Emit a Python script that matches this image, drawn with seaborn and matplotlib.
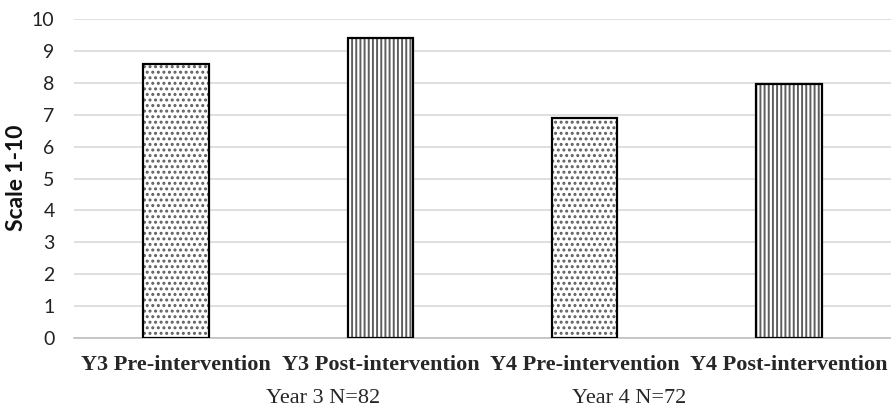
import matplotlib
matplotlib.use("Agg")
import matplotlib.pyplot as plt
import seaborn as sns
import pandas as pd

categories = ["Y3 Pre-intervention", "Y3 Post-intervention", "Y4 Pre-intervention", "Y4 Post-intervention"]
values = [8.6, 9.4, 6.9, 7.95]
groups = ["Year 3 N=82", "Year 4 N=72"]
group_pos = [0.72, 2.22]
yticks = list(range(0, 11))

df = pd.DataFrame({"cat": categories, "val": values})

sns.set_style("white")
plt.rcParams["hatch.linewidth"] = 1.4
fig = plt.figure(figsize=(8.91, 4.08), dpi=100)
ax = fig.add_axes([74/891, 1-338/408, 1-74/891, (338-19)/408])

sns.barplot(data=df, x="cat", y="val", ax=ax, color="white", width=0.32,
            edgecolor="#5e5e5e", linewidth=0, zorder=3)
hatches = ["...", "||||", "...", "||||"]
for p, h in zip(ax.patches, hatches):
    p.set_hatch(h)
sns.barplot(data=df, x="cat", y="val", ax=ax, fill=False, width=0.32,
            edgecolor="black", linewidth=1.6, zorder=4)

ax.set_ylim(0, 10)
ax.set_xlim(-0.5, 3.5)
ax.set_yticks(yticks)
ax.set_yticklabels([str(t) for t in yticks], fontsize=14, family="Lato", color="#222222")
ax.set_xticks(range(len(categories)))
ax.set_xticklabels(categories, fontsize=16, family="Liberation Serif", fontweight="bold")
ax.tick_params(axis="x", length=0, pad=12)
ax.tick_params(axis="y", length=0, pad=14)
ax.grid(axis="y", color="#d9d9d9", linewidth=1.2, zorder=0)
ax.set_axisbelow(True)
for s in ["top", "right", "left"]:
    ax.spines[s].set_visible(False)
ax.spines["bottom"].set_color("#bfbfbf")
ax.spines["bottom"].set_linewidth(1.2)
ax.set_xlabel("")
ax.set_ylabel("")
fig.text(17/891, 1-178/408, "Scale 1-10", rotation=90, ha="center", va="center",
         fontsize=16.5, family="Lato", fontweight="bold", color="#111111")

for g, gx in zip(groups, group_pos):
    ax.text(gx, -0.19, g, transform=ax.get_xaxis_transform(), ha="center", va="center",
            fontsize=16, family="Liberation Serif")

fig.savefig("out.png", dpi=100)
